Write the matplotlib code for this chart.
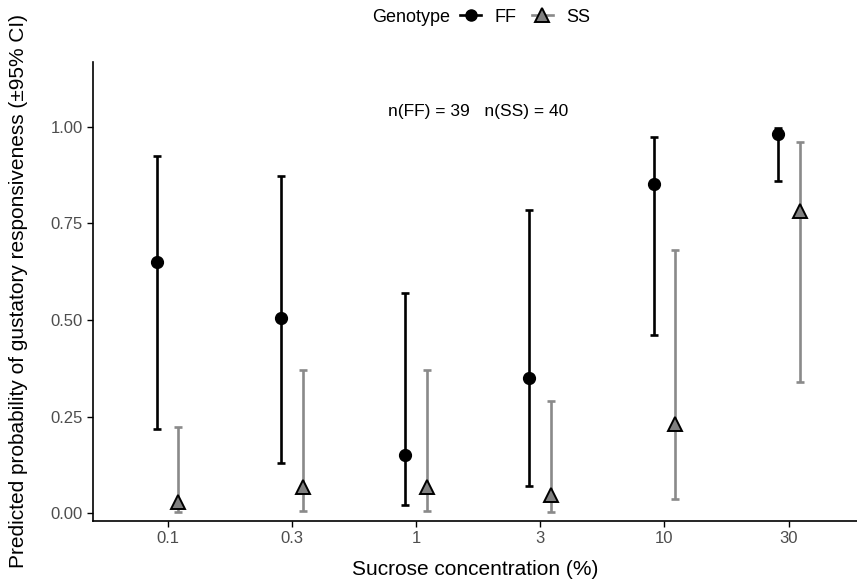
import numpy as np
import matplotlib
matplotlib.use("Agg")
import matplotlib.pyplot as plt
from matplotlib.lines import Line2D

plt.rcParams["font.family"] = ["Liberation Sans", "DejaVu Sans"]

# data
conc = ["0.1", "0.3", "1", "3", "10", "30"]
ff_p = [0.650, 0.505, 0.150, 0.349, 0.852, 0.980]
ff_lo = [0.218, 0.131, 0.021, 0.071, 0.461, 0.858]
ff_hi = [0.924, 0.872, 0.570, 0.783, 0.974, 0.996]
ss_p = [0.030, 0.068, 0.068, 0.048, 0.232, 0.782]
ss_lo = [0.004, 0.006, 0.006, 0.002, 0.036, 0.339]
ss_hi = [0.223, 0.370, 0.370, 0.290, 0.681, 0.959]
n_ff, n_ss = 39, 40

ff_col = "black"
ss_col = "#8a8a8a"
dodge = 0.088

fig = plt.figure(figsize=(8.57, 5.88), dpi=100)
ax = fig.add_axes([0.1085, 0.114, 0.8915, 0.7806])

x = np.arange(len(conc))
ff_p, ff_lo, ff_hi = map(np.array, (ff_p, ff_lo, ff_hi))
ss_p, ss_lo, ss_hi = map(np.array, (ss_p, ss_lo, ss_hi))

ax.errorbar(x - dodge, ff_p, yerr=[ff_p - ff_lo, ff_hi - ff_p], fmt="none",
            ecolor=ff_col, elinewidth=1.9, capsize=2.6, capthick=1.9, zorder=2)
ax.errorbar(x + dodge, ss_p, yerr=[ss_p - ss_lo, ss_hi - ss_p], fmt="none",
            ecolor=ss_col, elinewidth=1.9, capsize=2.6, capthick=1.9, zorder=2)
ax.plot(x - dodge, ff_p, "o", color=ff_col, markersize=8.5, zorder=3)
ax.plot(x + dodge, ss_p, "^", markerfacecolor="#808080", markeredgecolor="black",
        markeredgewidth=1.4, markersize=10, zorder=3)

ax.text(2.5, 1.04, f"n(FF) = {n_ff}   n(SS) = {n_ss}", ha="center", va="center",
        fontsize=12.5)

ax.set_xlim(-0.6, 5.55)
ax.set_ylim(-0.02, 1.167)
ax.set_xticks(x)
ax.set_xticklabels(conc)
ax.set_yticks([0, 0.25, 0.5, 0.75, 1.0])
ax.set_yticklabels(["0.00", "0.25", "0.50", "0.75", "1.00"])
ax.tick_params(labelsize=12, length=4, width=1, colors="black", labelcolor="#4d4d4d")
for s in ["top", "right"]:
    ax.spines[s].set_visible(False)
for s in ["left", "bottom"]:
    ax.spines[s].set_linewidth(1.2)

ax.set_xlabel("Sucrose concentration (%)", fontsize=15, labelpad=10)
ax.set_ylabel("Predicted probability of gustatory responsiveness (\u00b195% CI)",
              fontsize=15, labelpad=16)

# legend on top, title to the left
handles = [
    Line2D([], [], color=ff_col, lw=1.9, marker="o", markersize=8),
    Line2D([], [], color=ss_col, lw=1.9, marker="^", markerfacecolor="#808080",
           markeredgecolor="black", markeredgewidth=1.4, markersize=10),
]
fig.text(0.434, 0.971, "Genotype", ha="left", va="center", fontsize=13)
fig.legend(handles, ["FF", "SS"], loc="center left", bbox_to_anchor=(0.537, 0.971),
           ncol=2, frameon=False, fontsize=13, handlelength=1.15,
           handletextpad=0.75, columnspacing=0.85, borderpad=0, borderaxespad=0)

fig.savefig("out.png", dpi=100)
